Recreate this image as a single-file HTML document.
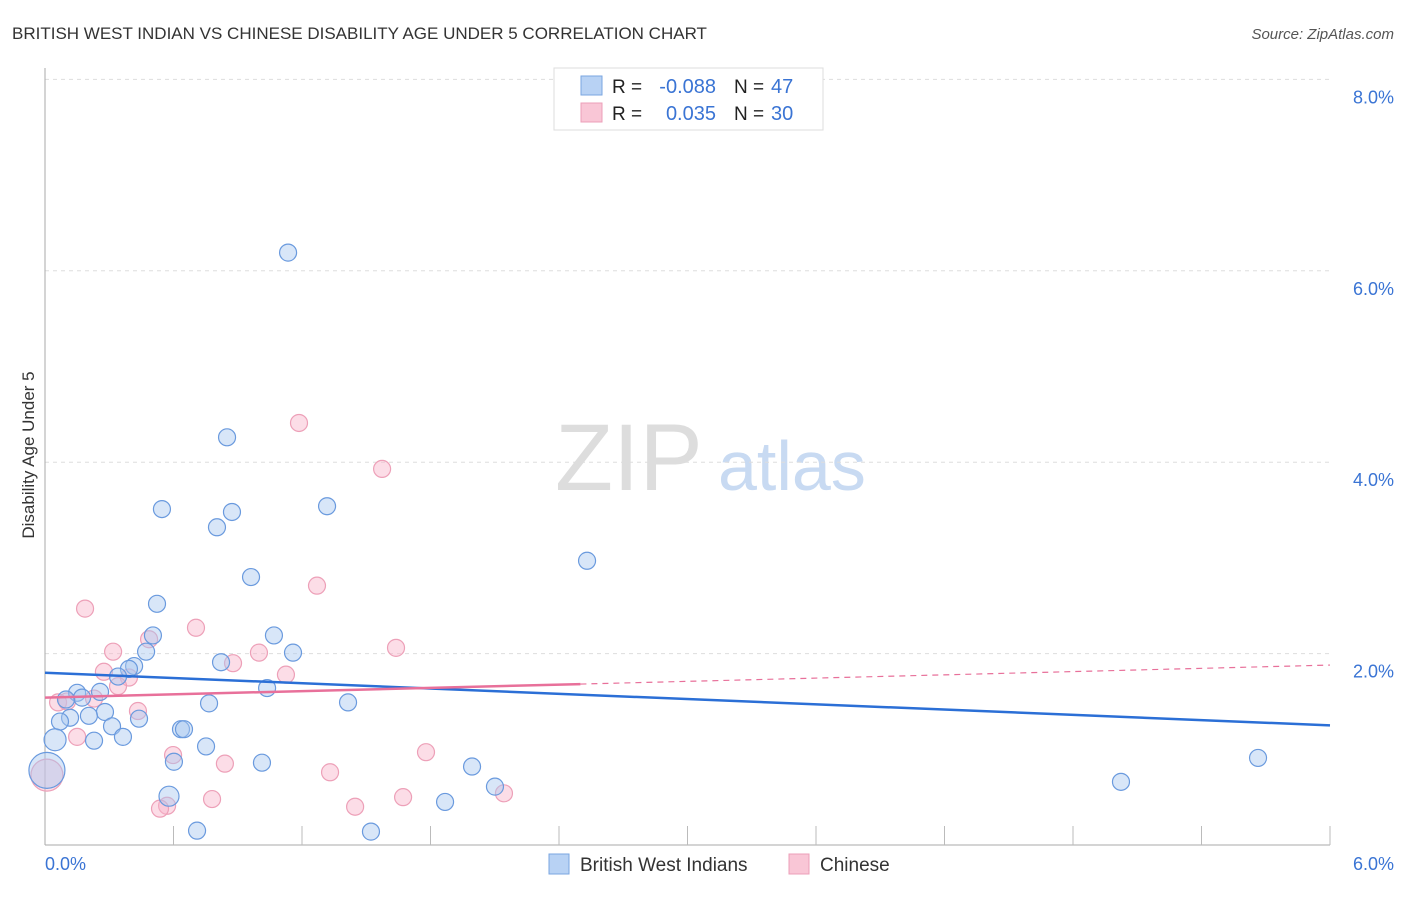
<!DOCTYPE html>
<html><head><meta charset="utf-8"><style>
body{margin:0;background:#fff;font-family:"Liberation Sans",sans-serif;}
svg text{font-family:"Liberation Sans",sans-serif;}
</style></head><body>
<svg width="1406" height="892" id="chart">
<text x="12" y="39" font-size="17" fill="#333">BRITISH WEST INDIAN VS CHINESE DISABILITY AGE UNDER 5 CORRELATION CHART</text>
<text x="1394" y="39" font-size="15" fill="#555" font-style="italic" text-anchor="end">Source: ZipAtlas.com</text>
<text x="34" y="455" font-size="17" fill="#333" text-anchor="middle" transform="rotate(-90 34 455)">Disability Age Under 5</text>
<text x="555" y="490" font-size="95" fill="#ddd" font-family="Liberation Serif">ZIP</text>
<text x="718" y="490" font-size="70" fill="#c8daf2">atlas</text>
<g id="grid"></g>
<line x1="45" y1="68" x2="45" y2="845" stroke="#aaa"/>
<line x1="45" y1="845" x2="1330" y2="845" stroke="#aaa"/>
<g id="ticks"></g>
<g id="pts"></g>
<g id="lines"></g>
<text x="45" y="870" font-size="18" fill="#3a74d4">0.0%</text>
<text x="1394" y="870" font-size="18" fill="#3a74d4" text-anchor="end">6.0%</text>
<g>
<rect x="554" y="68" width="269" height="62" fill="#fff" stroke="#ddd"/>
<rect x="581" y="76" width="21" height="19" fill="#b8d2f4" stroke="#7aa6e0"/>
<rect x="581" y="103" width="21" height="19" fill="#f9c6d6" stroke="#ec9fb8"/>
<text x="612" y="93" font-size="19" fill="#222">R =</text>
<text x="716" y="93" font-size="20" fill="#3a74d4" text-anchor="end">-0.088</text>
<text x="734" y="93" font-size="19" fill="#222">N =</text>
<text x="771" y="93" font-size="20" fill="#3a74d4">47</text>
<text x="612" y="120" font-size="19" fill="#222">R =</text>
<text x="716" y="120" font-size="20" fill="#3a74d4" text-anchor="end">0.035</text>
<text x="734" y="120" font-size="19" fill="#222">N =</text>
<text x="771" y="120" font-size="20" fill="#3a74d4">30</text>
</g>
<g>
<rect x="549" y="854" width="20" height="20" fill="#b8d2f4" stroke="#7aa6e0"/>
<text x="580" y="871" font-size="19" fill="#333">British West Indians</text>
<rect x="789" y="854" width="20" height="20" fill="#f9c6d6" stroke="#ec9fb8"/>
<text x="820" y="871" font-size="19" fill="#333">Chinese</text>
</g>
</svg>
<script>
const yTicks=[2,4,6,8];
const yTickLabels=["2.0%","4.0%","6.0%","8.0%"];
const xTicks=[1,2,3,4,5,6,7,8,9,10];
const blueX=[1.135,0.85,0.546,0.873,0.803,1.317,2.531,0.962,0.523,0.504,1.069,0.472,1.158,0.822,0.416,0.392,0.341,1.037,0.257,0.150,0.173,0.098,0.766,1.415,0.280,0.205,0.117,0.439,0.070,0.313,0.635,0.649,0.364,0.229,0.047,0.752,0.602,1.013,1.994,0.009,5.664,5.024,2.101,0.579,1.868,0.710,1.522];
const blueY=[6.19,4.26,3.51,3.48,3.32,3.54,2.97,2.80,2.52,2.19,2.19,2.02,2.01,1.91,1.87,1.84,1.76,1.64,1.60,1.59,1.54,1.52,1.48,1.49,1.39,1.35,1.33,1.32,1.29,1.24,1.21,1.21,1.13,1.09,1.10,1.03,0.87,0.86,0.82,0.78,0.91,0.66,0.61,0.51,0.45,0.15,0.14];
const blueR=[8.5,8.5,8.5,8.5,8.5,8.5,8.5,8.5,8.5,8.5,8.5,8.5,8.5,8.5,8.5,8.5,8.5,8.5,8.5,8.5,8.5,8.5,8.5,8.5,8.5,8.5,8.5,8.5,8.5,8.5,8.5,8.5,8.5,8.5,11,8.5,8.5,8.5,8.5,18,8.5,8.5,8.5,10,8.5,8.5,8.5];
const pinkX=[1.186,1.574,1.270,0.187,0.705,0.486,1.639,0.318,0.999,0.878,0.275,1.125,0.392,0.341,0.061,0.103,0.229,0.434,0.150,0.598,1.779,0.840,1.331,0.009,0.780,1.672,2.143,1.448,0.570,0.537];
const pinkY=[4.41,3.93,2.71,2.47,2.27,2.15,2.06,2.02,2.01,1.90,1.81,1.78,1.75,1.66,1.49,1.50,1.53,1.40,1.13,0.94,0.97,0.85,0.76,0.73,0.48,0.50,0.54,0.40,0.41,0.38];
const pinkR=[8.5,8.5,8.5,8.5,8.5,8.5,8.5,8.5,8.5,8.5,8.5,8.5,8.5,8.5,8.5,8.5,8.5,8.5,8.5,8.5,8.5,8.5,8.5,16,8.5,8.5,8.5,8.5,8.5,8.5];
const blueTrend=[1.80,1.25];
const pinkTrend=[1.54,1.88];
const pinkSolidEnd=2.5;
const X=v=>45+v/6*1285, Y=v=>845-v*95.7;
const NS="http://www.w3.org/2000/svg";
function mk(t,a,p){const e=document.createElementNS(NS,t);for(const k in a)e.setAttribute(k,a[k]);p.appendChild(e);return e;}
const grid=document.getElementById('grid');
yTicks.forEach((t,i)=>{
 const l=mk('line',{x1:45,x2:1330,y1:Y(t),y2:Y(t),stroke:'#ddd','stroke-dasharray':'4,4'},grid);
 
 
 const tx=mk('text',{x:1394,y:Y(t)+24,'font-size':18,fill:'#3a74d4','text-anchor':'end'},grid);
 tx.textContent=yTickLabels[i];
 
 
});
const tk=document.getElementById('ticks');
xTicks.forEach(t=>{
 const l=mk('line',{x1:45+t*128.5,x2:45+t*128.5,y1:826,y2:845,stroke:'#bbb'},tk);
 
 
});
const pts=document.getElementById('pts');
pinkX.forEach((x,i)=>{
 const c=mk('circle',{cx:X(x),cy:Y(pinkY[i]),r:pinkR[i],fill:'rgba(248,180,202,0.45)',stroke:'#eda0b8','stroke-width':1.2},pts);
 
 
});
blueX.forEach((x,i)=>{
 const c=mk('circle',{cx:X(x),cy:Y(blueY[i]),r:blueR[i],fill:'rgba(168,200,240,0.45)',stroke:'#6a9ade','stroke-width':1.2},pts);
 
 
});
const lg=document.getElementById('lines');
const bl=mk('line',{x1:X(0),y1:Y(blueTrend[0]),x2:X(6),y2:Y(blueTrend[1]),stroke:'#2b6fd6','stroke-width':2.5},lg);


const pm=pinkTrend[0]+(pinkTrend[1]-pinkTrend[0])*pinkSolidEnd/6;
const pl=mk('line',{x1:X(0),y1:Y(pinkTrend[0]),x2:X(pinkSolidEnd),y2:Y(pm),stroke:'#e8709a','stroke-width':2.5},lg);


const pd=mk('line',{x1:X(pinkSolidEnd),y1:Y(pm),x2:X(6),y2:Y(pinkTrend[1]),stroke:'#e8709a','stroke-width':1.2,'stroke-dasharray':'6,5'},lg);


</script>
</body></html>
